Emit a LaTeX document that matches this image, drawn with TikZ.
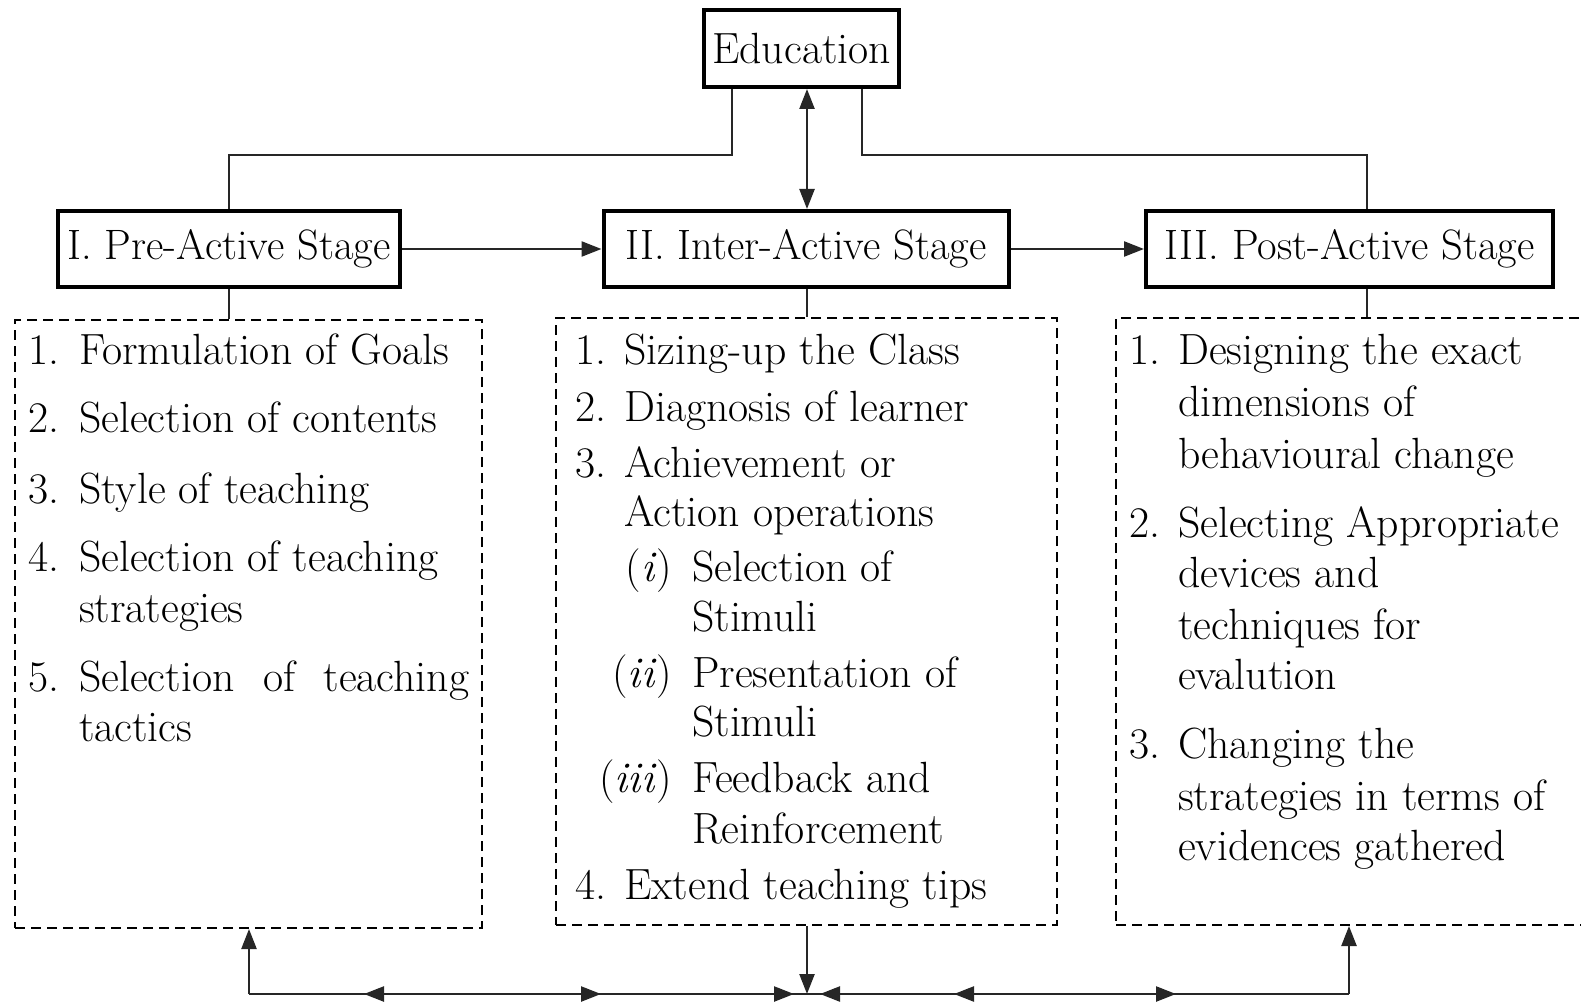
\documentclass[tikz,border=0pt]{standalone}
\usetikzlibrary{arrows.meta}
\newcommand\myfs{\fontsize{43.7}{52}\selectfont}
\newcommand\mysfs{\fontsize{42.5}{50}\selectfont}
\begin{document}
\begin{tikzpicture}[x=1pt,y=-1pt,
  conn/.style={line width=2.4pt, draw=black!85},
  tip/.style={-{Triangle[length=20pt,width=15pt]}},
  dtip/.style={{Triangle[length=20pt,width=15pt]}-{Triangle[length=20pt,width=15pt]}},
  stagebox/.style={draw, line width=4pt, minimum height=76pt, inner sep=0pt, font=\mysfs},
  dbox/.style={draw, line width=2pt, dash pattern=on 10pt off 6pt, inner sep=0pt},
  txt/.style={anchor=base west, inner sep=0pt, font=\myfs},
  lab/.style={anchor=base east, inner sep=0pt, font=\myfs},
]
\useasboundingbox (0,0) rectangle (1581,1008);
\clip (0,0) rectangle (1581,1008);

% main boxes
\node[stagebox, minimum width=195pt, minimum height=77pt, font=\myfs] (edu) at (801.5,48.5) {Education};
\node[stagebox, minimum width=342pt] (pre) at (229,249) {I. Pre-Active Stage};
\node[stagebox, minimum width=405pt] (inter) at (806,249) {II. Inter-Active Stage};
\node[stagebox, minimum width=407pt] (post) at (1349.5,249) {III. Post-Active Stage};

% dashed boxes
\node[dbox, minimum width=467pt, minimum height=608pt] (dl) at (248.5,624) {};
\node[dbox, minimum width=501pt, minimum height=607pt] (dm) at (806.5,621.5) {};
\node[dbox, minimum width=504pt, minimum height=607pt] (dr) at (1368,621.5) {};

% helper coordinates
\coordinate (jl) at (732,155);
\coordinate (jr) at (862,155);
\coordinate (jrr) at (1367,155);
\coordinate (ax) at (807,0);
\coordinate (bl) at (249,994);
\coordinate (br) at (1349,994);
\coordinate (bm) at (807,994);

% connectors from Education
\draw[conn] (jl |- edu.south) -- (jl) -| (pre.north);
\draw[conn] (jr |- edu.south) -- (jr) -- (jrr) -- (jrr |- post.north);
\draw[conn, dtip] (ax |- edu.south) -- (ax |- inter.north);

% stage flow
\draw[conn, tip] (pre.east) -- (inter.west);
\draw[conn, tip] (inter.east) -- (post.west);

% stems to dashed boxes
\draw[conn] (pre.south) -- (pre.south |- dl.north);
\draw[conn] (ax |- inter.south) -- (ax |- dm.north);
\draw[conn] (jrr |- post.south) -- (jrr |- dr.north);

% bottom feedback
\draw[conn, tip] (bl) -- (bl |- dl.south);
\draw[conn, tip] (br) -- (br |- dr.south);
\draw[conn] (bl) -- (br);
\draw[conn, tip] (ax |- dm.south) -- (bm);
\draw[conn, tip] (390,994) -- (364,994);
\draw[conn, tip] (575,994) -- (601,994);
\draw[conn, tip] (770,994) -- (794,994);
\draw[conn, tip] (845,994) -- (820,994);
\draw[conn, tip] (980,994) -- (954,994);
\draw[conn, tip] (1150,994) -- (1176,994);

% left column
\node[txt] (l1n) at (28,364) {1.};
\node[txt] (l1) at (79,364) {Formulation of Goals};
\node[txt] (l2n) at (28,432) {2.};
\node[txt] (l2) at (79,432) {Selection of contents};
\node[txt] (l3n) at (28,503) {3.};
\node[txt] (l3) at (79,503) {Style of teaching};
\node[txt] (l4n) at (28,571) {4.};
\node[txt] (l4) at (79,571) {Selection of teaching};
\node[txt] (l4b) at (79,622) {strategies};
\node[txt] (l5n) at (28,691) {5.};
\node[txt] (l5) at (79,691) {\makebox[390pt][s]{Selection of teaching}};
\node[txt] (l5b) at (79,741) {tactics};

% middle column
\node[txt] (m1n) at (575,364) {1.};
\node[txt] (m1) at (624,364) {Sizing-up the Class};
\node[txt] (m2n) at (575,421) {2.};
\node[txt] (m2) at (624,421) {Diagnosis of learner};
\node[txt] (m3n) at (575,477) {3.};
\node[txt] (m3) at (624,477) {Achievement or};
\node[txt] (m3b) at (624,526) {Action operations};
\node[lab] (mi) at (672,581) {(\textit{i})};
\node[txt] (mi1) at (692,581) {Selection of};
\node[txt] (mi2) at (692,631) {Stimuli};
\node[lab] (mii) at (672,687) {(\textit{ii})};
\node[txt] (mii1) at (692,687) {Presentation of};
\node[txt] (mii2) at (692,736) {Stimuli};
\node[lab] (miii) at (672,792) {(\textit{iii})};
\node[txt] (miii1) at (692,792) {Feedback and};
\node[txt] (miii2) at (692,843) {Reinforcement};
\node[txt] (m4n) at (575,899) {4.};
\node[txt] (m4) at (624,899) {Extend teaching tips};

% right column
\node[txt] (r1n) at (1129,364) {1.};
\node[txt] (r1) at (1178,364) {Designing the exact};
\node[txt] (r1b) at (1178,416) {dimensions of};
\node[txt] (r1c) at (1178,468) {behavioural change};
\node[txt] (r2n) at (1129,537) {2.};
\node[txt] (r2) at (1178,537) {Selecting Appropriate};
\node[txt] (r2b) at (1178,587) {devices and};
\node[txt] (r2c) at (1178,639) {techniques for};
\node[txt] (r2d) at (1178,689) {evalution};
\node[txt] (r3n) at (1129,758) {3.};
\node[txt] (r3) at (1178,758) {Changing the};
\node[txt] (r3b) at (1178,810) {strategies in terms of};
\node[txt] (r3c) at (1178,860) {evidences gathered};
\end{tikzpicture}
\end{document}
